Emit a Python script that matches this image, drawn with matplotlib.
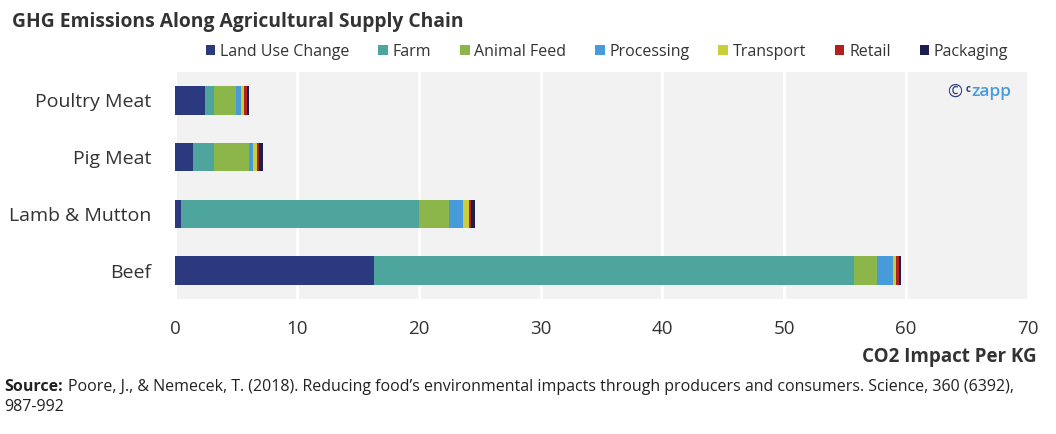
import numpy as np
import matplotlib.pyplot as plt

plt.rcParams['font.family'] = ['Open Sans', 'DejaVu Sans']

# data (CO2 per kg), bottom to top
foods = ['Beef', 'Lamb & Mutton', 'Pig Meat', 'Poultry Meat']
stages = ['Land Use Change', 'Farm', 'Animal Feed', 'Processing',
          'Transport', 'Retail', 'Packaging']
land_use = [16.3, 0.5, 1.5, 2.5]
farm = [39.4, 19.5, 1.7, 0.7]
animal_feed = [1.9, 2.5, 2.9, 1.8]
processing = [1.3, 1.1, 0.3, 0.4]
transport = [0.3, 0.5, 0.3, 0.3]
retail = [0.2, 0.2, 0.2, 0.2]
packaging = [0.2, 0.3, 0.3, 0.2]
xticks = [0, 10, 20, 30, 40, 50, 60, 70]

series = [land_use, farm, animal_feed, processing, transport, retail, packaging]
colors = ['#2B3A7E', '#4EA59D', '#8CB649', '#479BDB', '#C9CE3A', '#B4211C', '#1C1F4D']

fig = plt.figure(figsize=(10.56, 4.34), dpi=100)
ax = fig.add_axes([175/1056, 1-299/434, (1028-175)/1056, (299-72)/434])
ax.set_facecolor('#F2F2F2')

y = np.arange(len(foods))
left = np.zeros(len(foods))
for name, vals, c in zip(stages, series, colors):
    ax.barh(y, vals, left=left, height=0.5, color=c, label=name, zorder=3)
    left += np.array(vals)

ax.set_xlim(0, 70)
ax.set_ylim(-0.5, 3.5)
ax.set_xticks(xticks)
ax.set_yticks(y)
ax.set_yticklabels(foods)
ax.grid(axis='x', color='white', linewidth=2, zorder=1)
ax.set_axisbelow(True)
for s in ax.spines.values():
    s.set_visible(False)
ax.tick_params(axis='x', length=0, pad=15, labelsize=13.5, labelcolor='#333333')
ax.tick_params(axis='y', length=0, pad=17, labelsize=14, labelcolor='#333333')

fig.legend(loc='center', bbox_to_anchor=(607/1056, 1-52/434), ncol=7, frameon=False,
           fontsize=11.5, handlelength=0.6, handleheight=0.6, handletextpad=0.3,
           columnspacing=1.8, labelcolor='#333333')

fig.text(12/1056, 1-22/434, 'GHG Emissions Along Agricultural Supply Chain',
         fontsize=13.9, fontweight='bold', color='#333333', va='center', ha='left')
fig.text(1037/1056, 1-357/434, 'CO2 Impact Per KG', fontsize=13.5,
         fontweight='bold', color='#333333', va='center', ha='right')

# watermark
ax.text(0.905, 0.913, '\u00a9', transform=ax.transAxes, fontsize=13,
        color='#2B3A7E', va='center', ha='left', zorder=5)
ax.text(0.927, 0.925, 'c', transform=ax.transAxes, fontsize=7,
        color='#2B3A7E', fontweight='bold', va='center', ha='left', zorder=5)
ax.text(0.934, 0.913, 'zapp', transform=ax.transAxes, fontsize=12.5,
        color='#479BDB', fontweight='semibold', va='center', ha='left', zorder=5)

# source
src = fig.text(4/1056, 1-387/434, 'Source:', fontsize=11.5, fontweight='bold',
               color='#222222', va='center', ha='left')
fig.canvas.draw()
bb = src.get_window_extent()
fig.text((bb.x1 + 5)/1056, 1-387/434,
         'Poore, J., & Nemecek, T. (2018). Reducing food\u2019s environmental impacts '
         'through producers and consumers. Science, 360 (6392),',
         fontsize=11.5, color='#222222', va='center', ha='left')
fig.text(4/1056, 1-407/434, '987-992', fontsize=11.5, color='#222222',
         va='center', ha='left')

fig.savefig('out.png', dpi=100, facecolor='white')
